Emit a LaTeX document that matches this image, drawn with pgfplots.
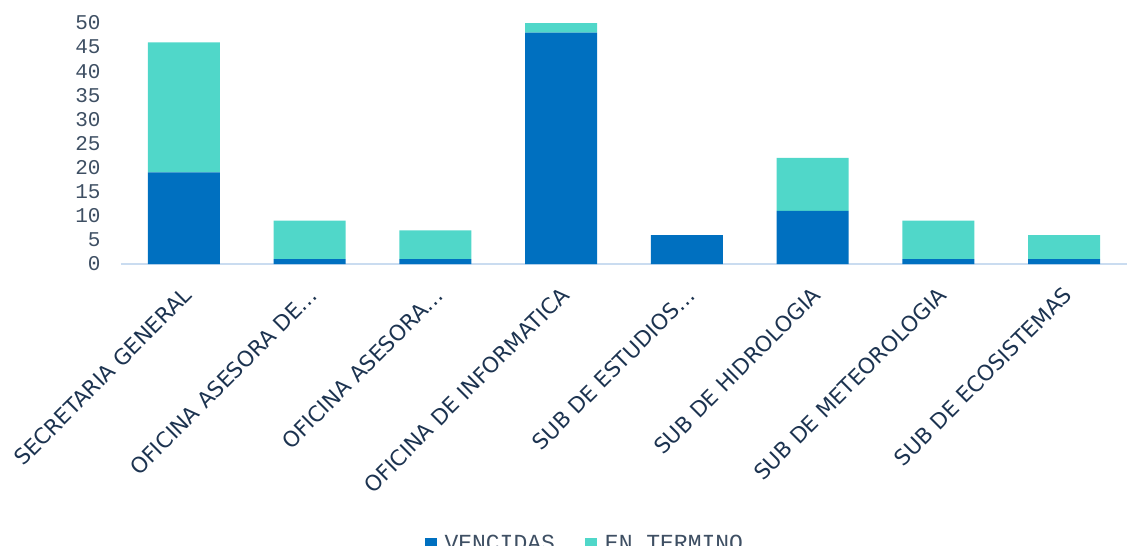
\documentclass[border=0pt]{standalone}
\usepackage{fontspec}
\usepackage{pgfplots}
\pgfplotsset{compat=1.18}
\setmainfont{DejaVu Sans}
\newfontfamily\monofont{Liberation Mono}
\newfontfamily\catfont{DejaVu Sans}
\definecolor{venc}{HTML}{0070C0}
\definecolor{term}{HTML}{50D7C9}
\definecolor{ticktxt}{HTML}{3E4F63}
\definecolor{cattxt}{HTML}{1C3350}
\definecolor{axln}{HTML}{CADCF0}
\begin{document}
\begin{tikzpicture}
\useasboundingbox (-121pt,-282pt) rectangle (1006pt,264pt);
\begin{axis}[
  scale only axis,
  width=1006pt, height=241pt,
  at={(0,0)}, anchor=south west,
  ybar stacked,
  bar width=72pt,
  xmin=-0.5, xmax=7.5,
  ymin=0, ymax=50,
  ytick={0,5,...,50},
  xtick={0,...,7},
  xticklabels={SECRETARIA GENERAL,OFICINA ASESORA DE…,OFICINA ASESORA…,OFICINA DE INFORMATICA,SUB DE ESTUDIOS…,SUB DE HIDROLOGIA,SUB DE METEOROLOGIA,SUB DE ECOSISTEMAS},
  axis y line*=left,
  y axis line style={draw=none},
  axis x line*=bottom,
  x axis line style={axln, line width=2pt, -},
  major tick length=0pt,
  /pgf/number format/assume math mode=true,
  yticklabel style={font=\monofont\fontsize{21}{23}\selectfont, text=ticktxt, anchor=east, xshift=-17pt},
  xticklabel style={font=\catfont\fontsize{21.5}{23}\selectfont, text=cattxt, rotate=45, anchor=north east, xshift=-13pt, yshift=-10.5pt},
  legend style={at={(0.461,-1.108)}, anchor=north, draw=none, fill=none, legend columns=2,
    font=\monofont\fontsize{23}{25}\selectfont, text=ticktxt,
    /tikz/every odd column/.append style={column sep=6pt},
    /tikz/every even column/.append style={column sep=28pt}},
  legend image code/.code={\fill[#1] (0pt,-6pt) rectangle (12pt,6pt);},
]
\addplot[fill=venc, draw=none] coordinates {(0,19) (1,1) (2,1) (3,48) (4,6) (5,11) (6,1) (7,1)};
\addplot[fill=term, draw=none] coordinates {(0,27) (1,8) (2,6) (3,2) (4,0) (5,11) (6,8) (7,5)};
\legend{VENCIDAS, EN TERMINO}
\end{axis}
\end{tikzpicture}
\end{document}
